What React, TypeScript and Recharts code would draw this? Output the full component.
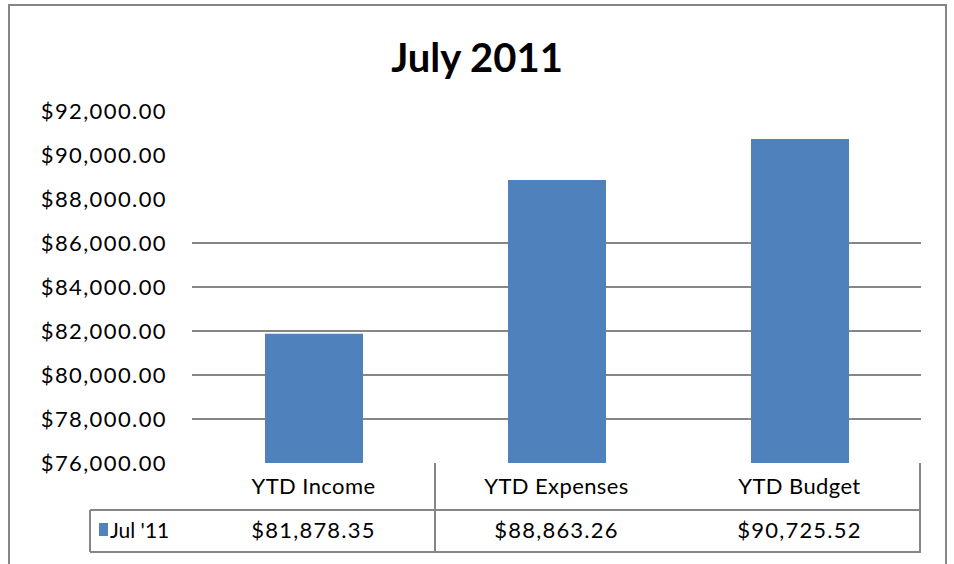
import React from "react";
import { BarChart, Bar, XAxis, YAxis, CartesianGrid, Customized } from "recharts";

const categories = ["YTD Income", "YTD Expenses", "YTD Budget"];
const values = [81878.35, 88863.26, 90725.52];
const seriesName = "Jul '11";
const yTicks = [76000, 78000, 80000, 82000, 84000, 86000, 88000, 90000, 92000];
const gridValues = [78000, 80000, 82000, 84000, 86000];
const title = "July 2011";

const data = categories.map((c, i) => ({ name: c, value: values[i] }));

const W = 954;
const H = 564;
const PL = 192;
const PR = 921;
const PT = 111;
const PB = 463;
const ROW = 510;
const TB = 552;
const FONT = "Lato, 'Open Sans', sans-serif";
const GRAY = "#868686";
const BLUE = "#4f81bd";

const money2 = (v: number) =>
  "$" + v.toLocaleString("en-US", { minimumFractionDigits: 2, maximumFractionDigits: 2 });

const Decor = () => {
  const colW = (PR - PL) / categories.length;
  return (
    <g>
      <rect x={9} y={5} width={937} height={600} fill="none" stroke={GRAY} strokeWidth={2} />
      <text x={477} y={72} textAnchor="middle" fontFamily={FONT} fontWeight={700} fontSize={40} fill="#000">
        {title}
      </text>
      <line x1={PL + colW} x2={PL + colW} y1={PB} y2={TB} stroke={GRAY} strokeWidth={2} />
      <line x1={PR - 1} x2={PR - 1} y1={PB} y2={TB} stroke={GRAY} strokeWidth={2} />
      <line x1={90} x2={PR} y1={ROW} y2={ROW} stroke={GRAY} strokeWidth={2} />
      <line x1={90} x2={PR} y1={TB} y2={TB} stroke={GRAY} strokeWidth={2} />
      <line x1={90} x2={90} y1={ROW} y2={TB} stroke={GRAY} strokeWidth={2} />
      <rect x={99} y={523} width={9} height={13} fill={BLUE} />
      <text x={110} y={538} fontFamily={FONT} fontSize={21} fill="#000">
        {seriesName}
      </text>
    </g>
  );
};

const tickStyle = { fill: "#000", fontFamily: FONT, fontSize: 22, letterSpacing: 1.2 };

export default function App() {
  return (
    <div style={{ position: "absolute", left: 0, top: 0, width: W, height: H, background: "#fff" }}>
      <BarChart
        width={W}
        height={H}
        data={data}
        margin={{ top: PT, left: 12, right: W - PR, bottom: 0 }}
      >
        <CartesianGrid
          horizontal
          vertical={false}
          horizontalValues={gridValues}
          stroke={GRAY}
          strokeWidth={2}
        />
        <YAxis
          width={PL - 12}
          domain={[76000, 92000]}
          ticks={yTicks}
          tickFormatter={money2}
          axisLine={false}
          tickLine={false}
          tickSize={0}
          tickMargin={25}
          tick={{ ...tickStyle, letterSpacing: 1.4 }}
          interval={0}
          allowDataOverflow
        />
        <XAxis
          dataKey="name"
          xAxisId={0}
          height={ROW - PB}
          axisLine={false}
          tickLine={false}
          tickSize={0}
          tickMargin={15}
          interval={0}
          tick={{ ...tickStyle, letterSpacing: 0.4 }}
        />
        <XAxis
          dataKey="name"
          xAxisId="vals"
          height={H - ROW}
          axisLine={false}
          tickLine={false}
          tickSize={0}
          tickMargin={12}
          interval={0}
          tickFormatter={(v: string) => money2(values[categories.indexOf(v)])}
          tick={tickStyle}
        />
        <Bar dataKey="value" name={seriesName} fill={BLUE} barSize={98} xAxisId={0} isAnimationActive={false} />
        <Customized component={<Decor />} />
      </BarChart>
    </div>
  );
}
